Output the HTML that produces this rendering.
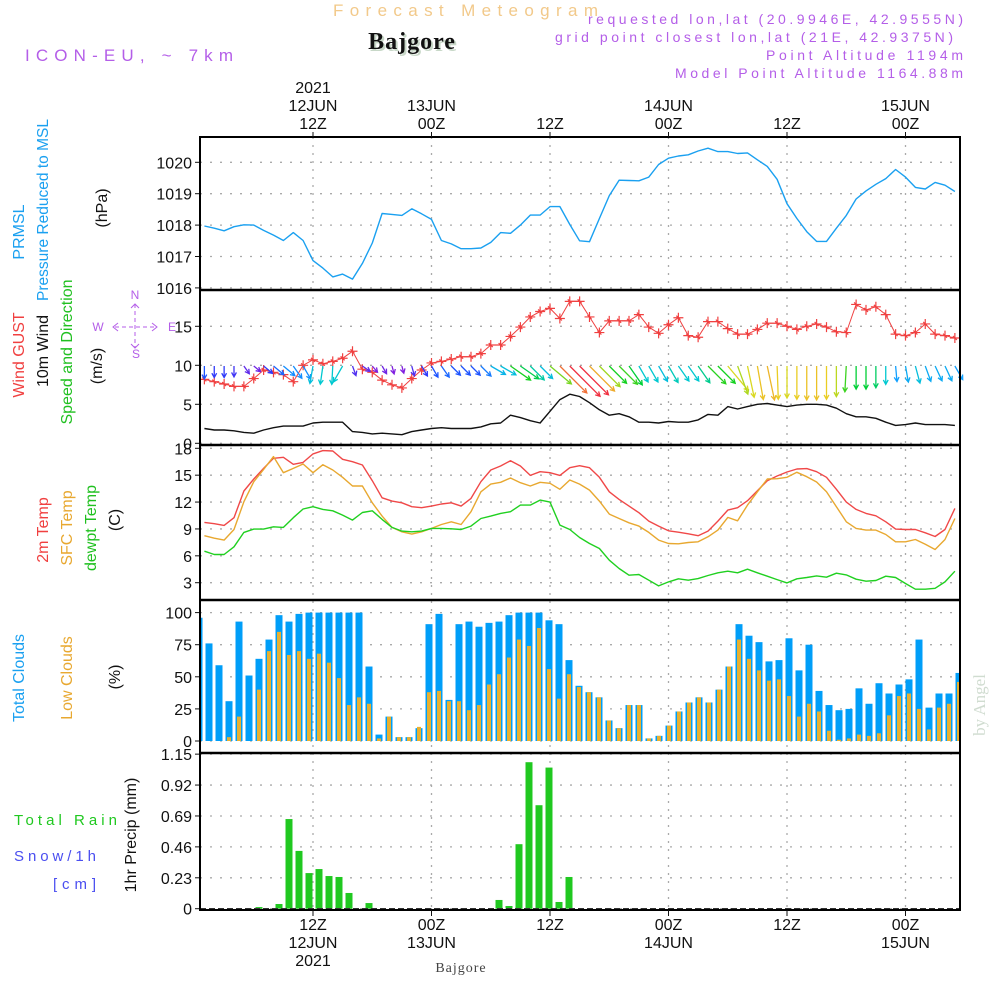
<!DOCTYPE html>
<html><head><meta charset="utf-8"><title>Forecast Meteogram Bajgore</title>
<style>
html,body{margin:0;padding:0;background:#fff;}
svg{display:block;font-family:"Liberation Sans",sans-serif;}
.tk{font-size:16px;fill:#111;}
</style></head>
<body>
<svg id="chart" width="1000" height="1000" viewBox="0 0 1000 1000" xmlns="http://www.w3.org/2000/svg">
<rect width="1000" height="1000" fill="#fff"/>
<g id="header">
<text x="333" y="16" font-size="17" fill="#f2c98a" textLength="265" lengthAdjust="spacing">Forecast Meteogram</text>
<text x="414" y="51" font-size="24" font-weight="bold" font-family="Liberation Serif, serif" text-anchor="middle" fill="#c8d8c8" letter-spacing="1">Bajgore</text>
<text x="412" y="49" font-size="24" font-weight="bold" font-family="Liberation Serif, serif" text-anchor="middle" fill="#111" letter-spacing="1">Bajgore</text>
<text x="25" y="61" font-size="17" fill="#b45ee8" textLength="208" lengthAdjust="spacing">ICON-EU, ~ 7km</text>
<text x="588" y="24" font-size="14" fill="#b45ee8" textLength="375" lengthAdjust="spacing">requested lon,lat (20.9946E, 42.9555N)</text>
<text x="555" y="42" font-size="14" fill="#b45ee8" textLength="398" lengthAdjust="spacing">grid point closest lon,lat (21E, 42.9375N)</text>
<text x="766" y="60" font-size="14" fill="#b45ee8" textLength="197" lengthAdjust="spacing">Point Altitude 1194m</text>
<text x="675" y="78" font-size="14" fill="#b45ee8" textLength="288" lengthAdjust="spacing">Model Point Altitude 1164.88m</text>
</g>
<g id="labels" font-size="16">
<text transform="translate(24,232) rotate(-90)" text-anchor="middle" fill="#1aa0f0">PRMSL</text>
<text transform="translate(48,210) rotate(-90)" text-anchor="middle" fill="#1aa0f0" textLength="182" lengthAdjust="spacingAndGlyphs">Pressure Reduced to MSL</text>
<text transform="translate(107,208) rotate(-90)" text-anchor="middle" fill="#111">(hPa)</text>
<text transform="translate(24,355) rotate(-90)" text-anchor="middle" fill="#f04040">Wind GUST</text>
<text transform="translate(48,351) rotate(-90)" text-anchor="middle" fill="#111">10m Wind</text>
<text transform="translate(72,352) rotate(-90)" text-anchor="middle" fill="#20c020">Speed and Direction</text>
<text transform="translate(102,366) rotate(-90)" text-anchor="middle" fill="#111">(m/s)</text>
<text transform="translate(48,530) rotate(-90)" text-anchor="middle" fill="#f04040">2m Temp</text>
<text transform="translate(72,528) rotate(-90)" text-anchor="middle" fill="#e8a830">SFC Temp</text>
<text transform="translate(96,528) rotate(-90)" text-anchor="middle" fill="#20c020">dewpt Temp</text>
<text transform="translate(120,520) rotate(-90)" text-anchor="middle" fill="#111">(C)</text>
<text transform="translate(24,678) rotate(-90)" text-anchor="middle" fill="#1aa0f0">Total Clouds</text>
<text transform="translate(72,678) rotate(-90)" text-anchor="middle" fill="#e8a830">Low Clouds</text>
<text transform="translate(120,677) rotate(-90)" text-anchor="middle" fill="#111">(%)</text>
<text transform="translate(136,835) rotate(-90)" text-anchor="middle" fill="#111">1hr Precip (mm)</text>
<text x="14" y="825" fill="#20c820" font-size="15" textLength="103" lengthAdjust="spacing">Total   Rain</text>
<text x="14" y="861" fill="#4a4ef0" font-size="15" textLength="82" lengthAdjust="spacing">Snow/1h</text>
<text x="53" y="889" fill="#4a4ef0" font-size="15" textLength="43" lengthAdjust="spacing">[cm]</text>
<text transform="translate(985,705) rotate(-90)" text-anchor="middle" fill="#d0dcd0" font-family="Liberation Serif, serif" font-size="17">by Angel</text>
</g>
<g id="compass" fill="#b45ee8" font-size="12" stroke="none">
<text x="135" y="299" text-anchor="middle">N</text>
<text x="98" y="331" text-anchor="middle">W</text>
<text x="172" y="331" text-anchor="middle">E</text>
<text x="136" y="358" text-anchor="middle">S</text>
<g stroke="#b45ee8" stroke-width="1" fill="none" stroke-dasharray="4,3">
<line x1="115" y1="327" x2="157" y2="327"/><line x1="135" y1="304" x2="135" y2="348"/>
</g>
<path d="M118 323 L113 327 L118 331 M152 323 L157 327 L152 331 M131 308 L135 304 L139 308 M131 344 L135 348 L139 344" stroke="#b45ee8" fill="none"/>
</g>
<g id="grid"></g>
<g id="marks"></g>
<g id="axes"></g>
</svg>
<script>
// ---- data (hourly, h = 1..77) ----
const pressure = [1017.97,1017.90,1017.82,1017.95,1018.01,1018.0,1017.83,1017.68,1017.51,1017.76,1017.51,1016.87,1016.63,1016.35,1016.44,1016.28,1016.78,1017.43,1018.37,1018.34,1018.31,1018.52,1018.36,1018.18,1017.51,1017.40,1017.25,1017.25,1017.27,1017.45,1017.76,1017.74,1018.0,1018.32,1018.32,1018.59,1018.59,1018.02,1017.50,1017.47,1018.21,1018.94,1019.43,1019.42,1019.41,1019.53,1019.93,1020.13,1020.20,1020.24,1020.36,1020.45,1020.34,1020.34,1020.28,1020.30,1020.08,1019.87,1019.46,1018.68,1018.21,1017.79,1017.48,1017.48,1017.90,1018.31,1018.83,1019.09,1019.30,1019.48,1019.77,1019.53,1019.20,1019.15,1019.36,1019.27,1019.07];
const gust = [8.2,7.9,7.6,7.3,7.3,8.3,9.4,9.1,8.8,7.9,10.0,10.7,10.2,10.5,10.9,11.8,9.5,9.1,8.1,7.5,7.1,8.3,9.4,10.3,10.5,10.8,11.1,11.1,11.5,12.6,12.6,13.7,14.9,16.2,16.9,17.3,16.0,18.2,18.2,16.2,14.2,15.7,15.7,15.7,16.5,14.9,14.1,15.2,16.1,13.8,13.6,15.6,15.6,14.7,14.0,14.0,14.6,15.4,15.4,15.0,14.6,15.0,15.3,14.9,14.3,14.2,17.8,17.1,17.5,16.5,14.0,13.8,14.2,15.3,14.0,13.8,13.5];
const windSpeed = [1.9,1.7,1.7,1.6,1.4,1.3,1.7,2.0,2.2,2.2,2.2,2.6,2.7,2.7,2.7,1.5,1.4,1.2,1.3,1.2,1.1,1.5,1.7,1.9,2.0,1.9,1.9,1.9,2.1,2.5,2.6,3.6,3.3,2.9,2.6,4.1,5.6,6.3,6.0,5.2,4.3,3.6,3.8,3.4,2.7,2.7,2.6,2.8,2.7,2.7,3.0,3.7,3.6,4.7,4.4,4.7,5.0,5.1,4.9,4.7,4.9,5.0,5.0,4.9,4.5,3.8,3.4,3.4,3.2,2.7,2.3,2.4,2.6,2.4,2.4,2.4,2.3];
// arrow heading in degrees from straight-down, positive toward east
const windHeading = [0,0,0,0,35,50,50,50,50,35,30,-10,-8,-3,-30,20,55,40,30,15,15,15,30,30,35,45,45,45,45,60,60,55,55,45,45,50,45,45,45,45,45,45,45,35,30,30,30,30,35,35,35,45,45,40,20,12,10,12,2,0,0,0,0,0,0,-3,0,0,0,0,5,10,15,20,25,25,30];
const temp2m = [9.73,9.58,9.39,10.25,13.23,14.57,15.76,16.88,16.99,16.21,16.43,17.37,17.74,17.70,16.77,16.51,16.14,14.38,12.48,12.11,11.92,11.48,11.37,11.55,11.78,11.92,11.55,12.41,14.27,15.58,16.02,16.62,16.02,14.98,15.39,15.28,14.98,15.84,16.06,15.84,14.76,13.15,12.30,11.55,10.81,9.88,9.32,8.79,8.64,8.46,8.24,8.76,9.88,11.10,11.37,12.15,13.27,14.38,14.91,15.35,15.69,15.73,15.39,14.76,13.42,12.00,11.18,10.73,10.47,9.80,8.98,8.94,8.94,8.57,8.16,8.94,11.29];
const sfcTemp = [8.24,7.97,7.75,8.94,12.04,14.27,15.65,17.07,15.28,15.76,16.25,15.28,16.17,15.58,14.76,13.79,13.79,11.92,10.43,9.17,8.68,8.42,8.68,9.06,9.50,9.80,9.50,10.92,13.15,14.01,14.20,14.68,14.16,13.79,14.20,14.09,13.42,14.46,14.01,13.34,12.11,10.66,10.17,9.69,9.32,8.61,7.75,7.38,7.34,7.49,7.56,8.12,8.87,10.29,9.91,11.66,13.15,14.57,14.61,14.76,15.32,14.83,14.24,13.15,11.48,9.80,9.06,8.87,8.87,8.38,7.56,7.56,7.82,7.30,6.71,7.82,10.17];
const dewpt = [6.52,6.15,6.15,7.01,8.61,8.98,8.98,9.24,9.17,10.25,11.22,11.48,11.18,11.03,10.55,9.99,10.84,11.03,10.06,9.17,8.76,8.68,8.76,9.06,9.06,9.02,8.94,9.32,10.17,10.43,10.73,10.92,11.66,11.66,12.22,12.00,9.43,8.94,8.05,7.38,6.82,5.51,4.58,3.84,3.91,3.28,2.64,3.09,3.43,3.28,3.46,3.80,4.10,4.28,4.10,4.51,4.10,3.73,3.35,2.98,3.43,3.58,3.76,3.61,4.06,3.87,3.39,3.17,3.24,3.73,3.58,2.91,2.27,2.27,2.38,3.09,4.28];
// bar series, index i = 0..76
const totalClouds = [96,76,59,31,93,51,64,79,98,93,99,100,100,100,100,100,100,58,5,19,3,3,10,91,99,32,91,93,89,92,93,98,100,100,100,94,91,63,43,38,34,16,10,28,28,2,4,12,23,30,34,30,40,58,91,82,77,62,63,80,55,75,39,28,24,25,41,29,45,37,44,48,79,26,37,37,53];
const lowClouds = [0,0,0,3,19,0,40,70,85,67,70,64,68,61,49,28,34,29,2,19,3,3,11,38,39,31,31,24,28,44,52,65,79,74,88,56,33,52,42,38,34,16,10,28,28,2,4,12,23,30,34,30,40,58,79,64,55,47,48,35,19,29,23,8,1,2,5,4,6,20,35,37,25,9,26,29,46];
const precip = [0,0,0,0,0,0,0.012,0,0.035,0.667,0.43,0.265,0.295,0.243,0.236,0.117,0,0.042,0,0,0,0,0,0,0,0,0,0,0,0,0.065,0.02,0.48,1.09,0.77,1.05,0.05,0.236,0,0,0,0,0,0,0,0,0,0,0,0,0,0,0,0,0,0,0,0,0,0,0,0,0,0,0,0,0,0,0,0,0,0,0,0,0,0,0];
// axis ticks
const presTicks = [1016,1017,1018,1019,1020];
const windTicks = [0,5,10,15];
const tempTicks = [3,6,9,12,15,18];
const cloudTicks = [0,25,50,75,100];
const precipTicks = [0,0.23,0.46,0.69,0.92,1.15];
const timeTickHours = [12,24,36,48,60,72];
const topTimeLabels = [["2021","12JUN","12Z"],["13JUN","00Z"],["12Z"],["14JUN","00Z"],["12Z"],["15JUN","00Z"]];
const bottomTimeLabels = [["12Z","12JUN","2021"],["00Z","13JUN"],["12Z"],["00Z","14JUN"],["12Z"],["00Z","15JUN"]];

// ---- scales ----
const X0=200, X1=960;
const xh = h => 194.5 + 9.875*h;
const xb = i => 199 + 10*i;
const yP = v => 162.3 + (1020 - v)*31.4;
const yW = v => 443.3 - v*7.8;
const yT = v => 448.3 + (18 - v)*8.96;
const yC = v => 741 - v*1.284;
const yR = v => 908.7 - v*134.4;

const NS="http://www.w3.org/2000/svg";
function mk(tag, attrs, parent){const e=document.createElementNS(NS,tag);for(const k in attrs)e.setAttribute(k,attrs[k]);parent.appendChild(e);return e;}
const G=document.getElementById('grid'), M=document.getElementById('marks'), A=document.getElementById('axes');

function hgrid(vals, yf, name){
  vals.forEach(v=>{const l=mk('line',{x1:X0,x2:X1,y1:yf(v),y2:yf(v),stroke:'#aaa','stroke-width':1.3,'stroke-dasharray':'2,8'},G);
    
    });
}
hgrid(presTicks,yP,'pressure');hgrid(windTicks,yW,'wind');hgrid(tempTicks,yT,'temp');hgrid(cloudTicks,yC,'cloud');hgrid(precipTicks,yR,'precip');
timeTickHours.forEach(h=>{const l=mk('line',{x1:xh(h),x2:xh(h),y1:137,y2:910,stroke:'#aaa','stroke-width':1.3,'stroke-dasharray':'2,6'},G);
  
  });

function yaxis(vals, yf, name, fmt){
  vals.forEach(v=>{const y=yf(v);
    mk('line',{x1:195,x2:200,y1:y,y2:y,stroke:'#111'},A);
    const t=mk('text',{x:192,y:y+6,'text-anchor':'end',class:'tk'},A);t.textContent=fmt?fmt(v):String(v);
    
    });
}
yaxis(presTicks,yP,'pressure');yaxis(windTicks,yW,'wind');yaxis(tempTicks,yT,'temp');yaxis(cloudTicks,yC,'cloud');
yaxis(precipTicks,yR,'precip',v=>v===0?'0':v.toFixed(2));

function line(data, yf, color, name, w){
  const pts=data.map((v,k)=>xh(k+1).toFixed(1)+','+yf(v).toFixed(1)).join(' ');
  const p=mk('polyline',{points:pts,fill:'none',stroke:color,'stroke-width':w||1.4,'stroke-linejoin':'round'},M);
  
  
}
line(pressure,yP,'#1aa0f0','pressure-line');
line(windSpeed,yW,'#111','wind-speed-line');
line(gust,yW,'#f04040','gust-line',1);
gust.forEach((v,k)=>{const x=xh(k+1),y=yW(v);
  const g=mk('path',{d:`M${x-5} ${y}H${x+5}M${x} ${y-5}V${y+5}M${x-2} ${y-2}L${x+2} ${y+2}`,stroke:'#f04040','stroke-width':1.2,fill:'none'},M);
  
  });

const cmap=[[1.2,[128,32,224]],[1.8,[32,64,255]],[2.3,[16,160,255]],[2.7,[0,200,208]],[3.5,[0,208,32]],[4.3,[160,216,32]],[4.8,[232,216,32]],[5.3,[240,160,48]],[6.0,[240,48,64]]];
function colorFor(s){if(s<=cmap[0][0])return 'rgb('+cmap[0][1]+')';
  for(let k=1;k<cmap.length;k++){if(s<=cmap[k][0]){const a=cmap[k-1],b=cmap[k],t=(s-a[0])/(b[0]-a[0]);
    return 'rgb('+a[1].map((c,j)=>Math.round(c+(b[1][j]-c)*t)).join(',')+')';}}
  return 'rgb('+cmap[cmap.length-1][1]+')';}
windSpeed.forEach((s,k)=>{const x=xh(k+1),y=366,L=6.8*s,a=windHeading[k]*Math.PI/180;
  const dx=Math.sin(a)*L,dy=Math.cos(a)*L,x2=x+dx,y2=y+dy;
  const ang=Math.atan2(dy,dx),hl=5;
  const h1x=x2-hl*Math.cos(ang-0.5),h1y=y2-hl*Math.sin(ang-0.5),h2x=x2-hl*Math.cos(ang+0.5),h2y=y2-hl*Math.sin(ang+0.5);
  const c=colorFor(s);
  const p=mk('path',{d:`M${x} ${y}L${x2} ${y2}M${h1x} ${h1y}L${x2} ${y2}L${h2x} ${h2y}`,stroke:c,'stroke-width':1.3,fill:'none'},M);
  
  });

line(temp2m,yT,'#f04848','temp-2m-line');
line(sfcTemp,yT,'#e8a830','sfc-temp-line');
line(dewpt,yT,'#20d020','dewpoint-line');

totalClouds.forEach((v,i)=>{const x=xb(i);const x0=Math.max(X0,x-3.5),x1=Math.min(X1,x+3.5);if(x1<=x0)return;
  const r=mk('rect',{x:x0,y:yC(v),width:x1-x0,height:yC(0)-yC(v),fill:'#009ef8'},M);
  
  });
lowClouds.forEach((v,i)=>{const x=xb(i);const x0=Math.max(X0,x-2),x1=Math.min(X1,x+2);if(x1<=x0||v<=0)return;
  const r=mk('rect',{x:x0,y:yC(v),width:x1-x0,height:yC(0)-yC(v),fill:'#e8b030'},M);
  
  });
precip.forEach((v,i)=>{if(v<=0)return;const x=xb(i);
  const r=mk('rect',{x:x-3.5,y:yR(v),width:7,height:yR(0)-yR(v),fill:'#20c820'},M);
  
  });
mk('line',{x1:X0,x2:X1,y1:yR(0),y2:yR(0),stroke:'#333','stroke-width':1.5,'stroke-dasharray':'6,3'},M);

mk('rect',{x:X0,y:137,width:X1-X0,height:910-137,fill:'none',stroke:'#000','stroke-width':2},A);
[290,445,600,753].forEach(y=>mk('line',{x1:X0,x2:X1,y1:y,y2:y,stroke:'#000','stroke-width':2.5},A));
timeTickHours.forEach((h,k)=>{const x=xh(h);
  mk('line',{x1:x,x2:x,y1:132,y2:137,stroke:'#111'},A);
  mk('line',{x1:x,x2:x,y1:910,y2:916,stroke:'#111'},A);
  const top=topTimeLabels[k];
  top.forEach((s,j)=>{const t=mk('text',{x:x,y:129-(top.length-1-j)*18,'text-anchor':'middle',class:'tk',"font-size":"17"},A);t.textContent=s;
    
    });
  bottomTimeLabels[k].forEach((s,j)=>{const t=mk('text',{x:x,y:930+j*18,'text-anchor':'middle',class:'tk'},A);t.textContent=s;
    
    });
});
const bt=mk('text',{x:461,y:972,'text-anchor':'middle','font-size':'14','font-family':'Liberation Serif, serif',fill:'#444','letter-spacing':'1'},A);
bt.textContent='Bajgore';


</script>
</body></html>
